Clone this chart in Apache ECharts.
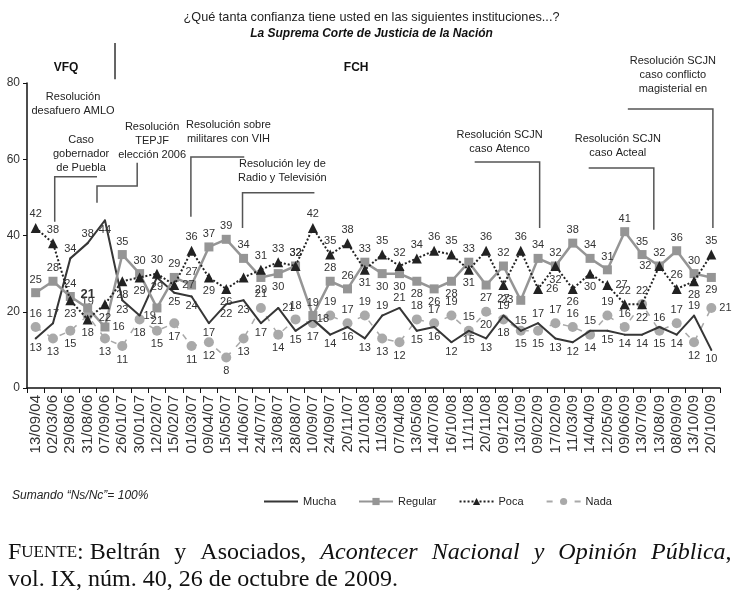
<!DOCTYPE html>
<html><head><meta charset="utf-8">
<script src="https://cdn.jsdelivr.net/npm/echarts@6/dist/echarts.min.js"></script>
<style>html,body{margin:0;padding:0;background:#fff}#c{width:743px;height:601px}</style>
</head><body><div id="c"></div>
<script>
// ---------- DATA ----------
const categories = ['13/09/04','02/03/06','29/08/06','31/08/06','07/09/06','26/01/07','30/01/07','12/02/07','15/02/07','01/03/07',
  '09/04/07','15/05/07','14/06/07','24/07/07','13/08/07','28/08/07','10/09/07','24/09/07','20/11/07','21/01/08',
  '11/03/08','07/04/08','13/05/08','14/07/08','16/10/08','11/11/08','20/11/08','09/12/08','13/01/09','09/02/09',
  '17/02/09','11/03/09','14/04/09','12/05/09','09/06/09','13/07/09','13/08/09','08/09/09','13/10/09','20/10/09'];
const mucha   = [13,17,34,38,44,23,19,29,25,24, 17,22,23,17,21,15,18,14,16,13, 19,21,15,16,12,15,13,19,15,17, 13,12,15,15,14,14,16,14,19,10];
const regular = [25,28,24,21,16,35,30,21,29,27, 37,39,34,29,30,32,19,28,26,33, 30,30,28,26,28,33,27,32,23,34, 32,38,34,31,41,35,32,36,30,29];
const poca    = [42,38,23,18,22,28,29,30,27,36, 29,26,29,31,33,32,42,35,38,31, 35,32,34,36,35,31,36,27,36,26, 32,26,30,27,22,22,32,26,28,35];
const nada    = [16,13,15,19,13,11,18,15,17,11, 12, 8,13,21,14,18,17,19,17,19, 13,12,18,17,19,15,20,18,15,15, 17,16,14,19,16,22,15,17,12,21];
const yTicks = [0,20,40,60,80];

// annotation texts
const notes = [
  {t:'Resolución\ndesafuero AMLO', at:[2.16,70.9]},
  {t:'Caso\ngobernador\nde Puebla', at:[2.62,55.8]},
  {t:'Resolución\nTEPJF\nelección 2006', at:[6.72,59.2]},
  {t:'Resolución sobre\nmilitares con VIH', at:[11.13,63.6]},
  {t:'Resolución ley de\nRadio y Televisión', at:[14.24,53.2]},
  {t:'Resolución SCJN\ncaso Atenco', at:[26.78,60.8]},
  {t:'Resolución SCJN\ncaso Acteal', at:[33.6,59.8]},
  {t:'Resolución SCJN\ncaso conflicto\nmagisterial en', at:[36.78,76.6]}
];
const brackets = [
  [[1.1,43.6],[1.1,55.4],[3.54,55.4]],
  [[3.54,48.6],[3.54,53.0],[5.86,53.0],[5.86,59.1]],
  [[8.96,44.9],[8.96,60.6],[12.04,60.6]],
  [[11.94,42],[11.94,51.2],[16.09,51.2]],
  [[25.34,59.3],[29.09,59.3],[29.09,42]],
  [[31.92,57.7],[35.68,57.7],[35.68,41.5]],
  [[34.18,73.2],[39.09,73.2],[39.09,42]]
];

// label placement per point (style only): t top, b bottom, l left, r right, n none
const posMucha   = 'btttbbrbbb' + 'bbbbrbrbbb' + 'ttbbbbbttt' + 'bbtbbbtbtb';
const posRegular = 'ttttrttbtt' + 'tttbbttttt' + 'bbbbbtbtlt' + 'tttttttttb';
const posPoca    = 'ttbbbbbtrt' + 'bbnttttttb' + 'tttttbtbtr' + 'bbbrttltbt';
const posNada    = 'tbbtbbbbbb' + 'bbbtbtbttt' + 'bbttttbbbb' + 'ttbttbbtbr';

const chart = echarts.init(document.getElementById('c'));
const P = {t:'top', b:'bottom', l:'left', r:'right'};
function mk(vals, pos, boldIdx) {
  return vals.map((v,i) => {
    const c = pos[i] || 't';
    if (c === 'n') return {value: v, label: {show: false}};
    const o = {value: v, label: {position: P[c]}};
    if (boldIdx === i) { o.label.fontWeight = 'bold'; o.label.fontSize = 13; }
    return o;
  });
}
const FONT = 'Liberation Sans';
const lbl = {show: true, fontSize: 11, color: '#333', fontFamily: FONT, distance: 3};

chart.setOption({
  animation: false,
  backgroundColor: '#fff',
  textStyle: {fontFamily: FONT},
  title: {
    text: '¿Qué tanta confianza tiene usted en las siguientes instituciones...?',
    subtext: 'La Suprema Corte de Justicia de la Nación',
    left: 'center', top: 6, itemGap: 4,
    textStyle: {fontSize: 12.7, fontWeight: 'normal', color: '#222', fontFamily: FONT},
    subtextStyle: {fontSize: 12, fontWeight: 'bold', fontStyle: 'italic', color: '#111', fontFamily: FONT}
  },
  legend: {
    left: 258, top: 491, itemWidth: 34, itemHeight: 9, itemGap: 22,
    textStyle: {fontSize: 11, color: '#222', fontFamily: FONT},
    data: [{name: 'Mucha', itemStyle: {color: 'rgba(0,0,0,0)', borderWidth: 0}}, 'Regular', 'Poca', 'Nada']
  },
  grid: {left: 27, right: 23, top: 83, bottom: 213, containLabel: false},
  xAxis: {
    type: 'category', data: categories, boundaryGap: true,
    axisLine: {lineStyle: {color: '#111', width: 1.5}},
    axisTick: {show: true, length: 5, lineStyle: {color: '#111'}},
    axisLabel: {rotate: 90, interval: 0, fontSize: 15, color: '#333', margin: 7, fontFamily: FONT},
    splitLine: {show: false}
  },
  yAxis: {
    type: 'value', min: yTicks[0], max: yTicks[yTicks.length-1], interval: 20,
    axisLine: {show: true, lineStyle: {color: '#111', width: 1.5}},
    axisTick: {show: true, length: 4, lineStyle: {color: '#111'}},
    axisLabel: {fontSize: 12, color: '#333', margin: 7, fontFamily: FONT},
    splitLine: {show: false}
  },
  series: [
    {name: 'Nada', type: 'line', data: mk(nada, posNada), symbol: 'circle', symbolSize: 10,
      itemStyle: {color: '#a9a9a9'}, lineStyle: {color: '#a9a9a9', width: 1.5, type: [6, 8]}, label: lbl, z: 2},
    {name: 'Mucha', type: 'line', data: mk(mucha, posMucha), symbol: 'circle', symbolSize: 2,
      itemStyle: {color: '#363636'}, lineStyle: {color: '#363636', width: 2}, label: lbl, z: 3},
    {name: 'Regular', type: 'line', data: mk(regular, posRegular, 3), symbol: 'rect', symbolSize: 9,
      itemStyle: {color: '#959595'}, lineStyle: {color: '#959595', width: 2.5}, label: lbl, z: 4},
    {name: 'Poca', type: 'line', data: mk(poca, posPoca), symbol: 'triangle', symbolSize: 10,
      itemStyle: {color: '#222'}, lineStyle: {color: '#222', width: 2, type: 'dotted'}, label: lbl, z: 5}
  ]
});

function toPx(p) {
  const x0 = chart.convertToPixel({xAxisIndex: 0}, categories[0]);
  const x1 = chart.convertToPixel({xAxisIndex: 0}, categories[1]);
  const y = chart.convertToPixel({yAxisIndex: 0}, p[1]);
  return [x0 + p[0] * (x1 - x0), y];
}
const g = [];
notes.forEach(n => {
  const p = toPx(n.at);
  g.push({type: 'text', x: p[0], y: p[1], silent: true,
    style: {text: n.t, align: 'center', verticalAlign: 'bottom', font: '11px "Liberation Sans"', fill: '#222', lineHeight: 14}});
});
brackets.forEach(b => {
  g.push({type: 'polyline', silent: true, shape: {points: b.map(toPx)}, style: {stroke: '#555', lineWidth: 1.5, fill: null}});
});
// period header
const vfq = toPx([1.75, 84]);
const fch = toPx([18.5, 84]);
const sepTop = toPx([4.58, 90.5]);
const sepBot = toPx([4.58, 81]);
g.push({type: 'text', x: vfq[0], y: vfq[1], style: {text: 'VFQ', align: 'center', verticalAlign: 'middle', font: 'bold 12px "Liberation Sans"', fill: '#111'}});
g.push({type: 'text', x: fch[0], y: fch[1], style: {text: 'FCH', align: 'center', verticalAlign: 'middle', font: 'bold 12px "Liberation Sans"', fill: '#111'}});
g.push({type: 'line', shape: {x1: sepTop[0], y1: sepTop[1], x2: sepBot[0], y2: sepBot[1]}, style: {stroke: '#333', lineWidth: 1.5}});
// notes below
g.push({type: 'text', left: 12, top: 490, style: {text: 'Sumando “Ns/Nc”= 100%', font: 'italic 12px "Liberation Sans"', fill: '#222'}});
const S = '\u2004';
g.push({type: 'text', left: 8, top: 541, style: {
  text: '{sc1|F}{sc2|UENTE}{n|: Beltrán ' + S + 'y ' + S + 'Asociados, ' + S + '}{it|Acontecer ' + S + 'Nacional ' + S + 'y ' + S + 'Opinión ' + S + 'Pública}{n|,}\n{n|vol. IX, núm. 40, 26 de octubre de 2009.}',
  rich: {
    sc1: {fontSize: 24, fontFamily: 'Liberation Serif', fill: '#111', lineHeight: 27},
    sc2: {fontSize: 17, fontFamily: 'Liberation Serif', fill: '#111', lineHeight: 27},
    n: {fontSize: 24, fontFamily: 'Liberation Serif', fill: '#111', lineHeight: 27},
    it: {fontSize: 24, fontFamily: 'Liberation Serif', fontStyle: 'italic', fill: '#111', lineHeight: 27}
  }}});
chart.setOption({graphic: g});
</script>
</body></html>
